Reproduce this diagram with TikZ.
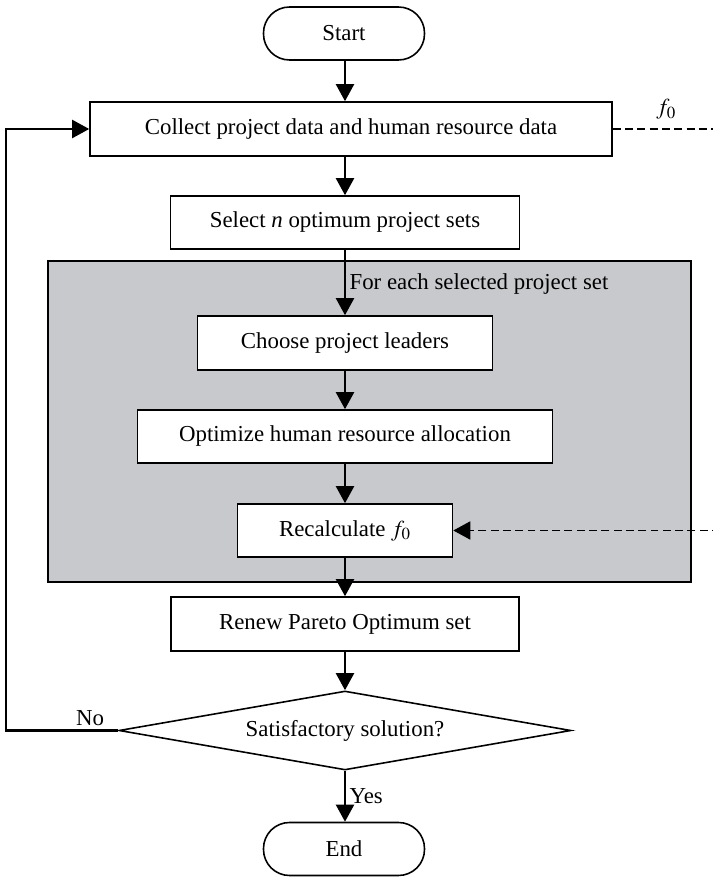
\documentclass[tikz,border=0pt]{standalone}
\usepackage{amsmath}
\usepackage{mathptmx}
\usepackage[no-math]{fontspec}
\setmainfont{Liberation Serif}
\usepackage{tikz}
\usetikzlibrary{arrows.meta,shapes.geometric}
\definecolor{panelgray}{RGB}{200,201,204}
\tikzstyle{arrow}=[draw=black, line width=1.2pt, -{Triangle[length=3.4mm, width=3.6mm]}]
\tikzstyle{feed}=[draw=black, line width=1pt, dash pattern=on 4.5pt off 2.5pt]
\tikzstyle{process}=[draw=black, line width=0.9pt, fill=white, rectangle, inner sep=0pt, font=\fontsize{13}{15}\selectfont]
\tikzstyle{terminal}=[process, rounded corners=5.2mm, minimum width=3.22cm, minimum height=1.06cm]
\tikzstyle{decision}=[process, diamond, aspect=5.72, minimum width=9.04cm, minimum height=1.58cm]
\tikzstyle{tag}=[inner sep=2pt, font=\fontsize{13}{15}\selectfont]

\begin{document}
\begin{tikzpicture}
		   \useasboundingbox (0, 0) rectangle (14.26, 17.54);
		   % loop for each project set
		   \node (panel) at (7.39, 9.11)[draw=black, line width=1pt, fill=panelgray, minimum width=12.86cm, minimum height=6.42cm] {};

		   \node (start) at (6.88, 16.87)[terminal] {Start};
		   \node (collect) at (7.02, 14.96)[process, minimum width=10.44cm, minimum height=1.08cm] {Collect project data and human resource data};
		   \node (select) at (6.9, 13.09)[process, minimum width=6.98cm, minimum height=1.06cm] {Select \textit{n} optimum project sets};
		   \node (leaders) at (6.9, 10.68)[process, minimum width=5.9cm, minimum height=1.08cm] {Choose project leaders};
		   \node (allocate) at (6.9, 8.81)[process, minimum width=8.3cm, minimum height=1.06cm] {Optimize human resource allocation};
		   \node (recalc) at (6.9, 6.93)[process, minimum width=4.3cm, minimum height=1.06cm] {Recalculate $f_0$};
		   \node (renew) at (6.9, 5.06)[process, minimum width=6.96cm, minimum height=1.08cm] {Renew Pareto Optimum set};
		   \node (check) at (6.9, 2.93)[decision] {Satisfactory solution?};
		   \node (end) at (6.88, 0.56)[terminal] {End};

		   \coordinate (fout) at (14.4, 14.96);
		   \coordinate (fin) at (14.4, 6.93);

		   \draw[arrow] (select.north |- start.south) -- (select.north |- collect.north);
		   \draw[arrow] (select.north |- collect.south) -- (select.north);
		   \draw[arrow] (select) -- node[tag, right, pos=0.52] {For each selected project set} (leaders);
		   \draw[arrow] (leaders) -- (allocate);
		   \draw[arrow] (allocate) -- (recalc);
		   \draw[arrow] (recalc) -- (renew);
		   \draw[arrow] (renew) -- (check);
		   \draw[arrow] (check.south) -- node[tag, right] {Yes} (end.north -| check.south);
		   \draw[arrow] (check.west) -- node[tag, above, pos=0.25] {No} ++(-2.24, 0) |- (collect.west);

		   % f0 passed on to the recalculation
		   \draw[feed] (collect.east) -- node[tag, above, pos=0.5, yshift=3pt] {$f_0$} (fout);
		   \draw[feed, -{Triangle[length=3.4mm, width=3.6mm]}] (fin) -- (recalc.east);
	   \end{tikzpicture}
\end{document}
